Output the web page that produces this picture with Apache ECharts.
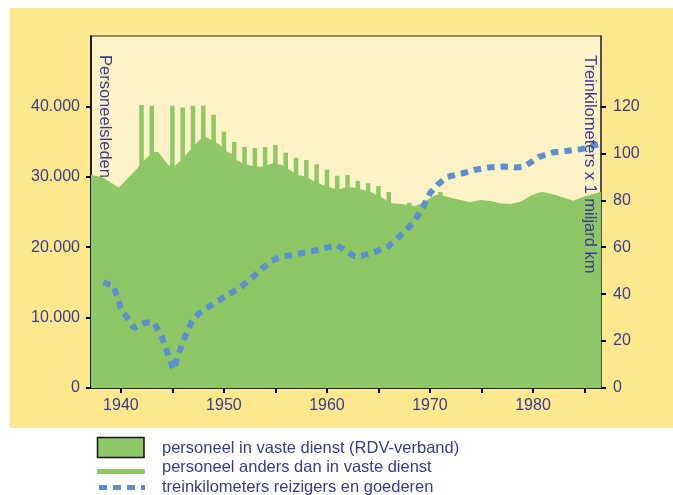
<!DOCTYPE html>
<html>
<head>
<meta charset="utf-8">
<script src="https://cdn.jsdelivr.net/npm/echarts@6/dist/echarts.min.js"></script>
<style>
html,body{margin:0;padding:0;background:#ffffff;}
#chart{width:673px;height:495px;}
</style>
</head>
<body>
<div id="chart"></div>
<script>
// ---- data ----
// personeel in vaste dienst (RDV-verband): area outline vertices
var vasteJaren = [1937.0,1938.2,1939.8,1941.6,1942.1,1943.1,1943.6,1944.6,1945.1,1946.0,1947.0,1948.0,1948.7,1949.6,1950.3,1950.8,1951.2,1952.0,1952.7,1953.7,1954.8,1955.6,1956.4,1957.2,1958.0,1958.8,1959.6,1960.5,1961.3,1961.9,1962.7,1963.5,1964.2,1965.3,1965.7,1966.2,1967.3,1968.6,1969.2,1970.5,1971.0,1972.2,1973.0,1973.9,1974.9,1975.9,1976.8,1977.8,1978.8,1979.9,1980.9,1982.2,1983.9,1984.9,1986.6,1987.0];
var vasteWaarden = [30300,29930,28470,31200,32140,33470,33560,31680,31350,32600,34280,35750,35350,34520,33570,33240,32390,31820,31530,31440,31920,31680,30970,30260,30020,29320,28840,28370,28270,28600,28460,28120,27880,27090,26700,26230,26140,25850,26230,27410,27410,26940,26700,26380,26700,26560,26230,26140,26470,27410,27880,27410,26610,27180,27880,27950];

// totaal personeel (vaste dienst + anders dan in vaste dienst): bar tops
var totaalJaren = [1942,1943,1945,1946,1947,1948,1949,1950,1951,1952,1953,1954,1955,1956,1957,1958,1959,1960,1961,1962,1963,1964,1965,1966,1968,1971];
var totaalWaarden = [40200,40100,40100,39850,40100,40100,38800,36400,34950,34250,34100,34250,34500,33400,32700,32400,31800,31000,30150,30250,29400,29100,28700,27850,26300,27850];

// treinkilometers reizigers en goederen (x 1 miljard km)
var kmJaren = [1938.3,1939.3,1940.0,1941.3,1942.3,1943.2,1944.0,1945.1,1946.0,1946.9,1947.5,1949.0,1950.5,1951.5,1953.0,1954.5,1955.5,1957.0,1958.5,1960.4,1961.0,1962.7,1963.5,1965.0,1966.0,1967.5,1968.5,1969.3,1970.0,1970.7,1971.7,1973.0,1974.4,1975.7,1977.1,1978.4,1979.2,1980.6,1982.0,1983.4,1984.7,1986.5];
var kmWaarden = [45,43.5,34,25.5,27.8,28,21.5,7.8,19.5,28.5,31.5,36,40,42.5,48,54,55.8,57,58.2,60.2,60.8,56,56.5,58.5,60.5,66.5,71,77,83,86.5,90,91.3,93,94,94.4,94,94.5,98.5,100.5,101.1,101.8,104];

// axis ticks and labels
var xTickJaren = [1940,1945,1950,1955,1960,1965,1970,1975,1980,1985];
var xLabelJaren = [1940,1950,1960,1970,1980];
var yLinksWaarden = [0,10000,20000,30000,40000];
var yRechtsWaarden = [0,20,40,60,80,100,120];

var titelLinks = 'Personeelsleden';
var titelRechts = 'Treinkilometers x 1 miljard km';
var legendaTeksten = ['personeel in vaste dienst (RDV-verband)', 'personeel anders dan in vaste dienst', 'treinkilometers reizigers en goederen'];

// ---- styling ----
var GROEN = '#8ec766';
var BLAUW = '#5b8fd0';
var TEKST = '#3a3a8e';
var GEEL = '#fee88d';
var LICHT = '#fdf2c6';
var FONT = '"Liberation Sans", Arial, sans-serif';

function pairs(xs, ys) { return xs.map(function (x, i) { return [x, ys[i]]; }); }
function dutch(v) { return String(v).replace(/\B(?=(\d{3})+(?!\d))/g, '.'); }

var chart = echarts.init(document.getElementById('chart'), null, {renderer: 'canvas'});
var option = {
  animation: false,
  backgroundColor: '#ffffff',
  textStyle: {fontFamily: FONT},
  grid: {left: 91, top: 36, right: 72, bottom: 107, show: true, backgroundColor: LICHT, borderColor: '#222', borderWidth: 1.2},
  xAxis: {
    type: 'value', min: 1937.1, max: 1986.6,
    axisLine: {show: true, onZero: false, lineStyle: {color: '#000', width: 1.5}},
    axisTick: {show: true, length: 5, inside: false, customValues: xTickJaren, lineStyle: {color: '#000', width: 2}},
    axisLabel: {customValues: xLabelJaren, color: TEKST, fontSize: 16, fontFamily: FONT, margin: 10, formatter: function (v) { return String(v); }},
    splitLine: {show: false}
  },
  yAxis: [
    {
      type: 'value', min: 0, max: 50000, interval: 10000, position: 'left',
      axisLine: {show: true, lineStyle: {color: '#000', width: 1.5}},
      axisTick: {show: true, length: 5, customValues: yLinksWaarden, lineStyle: {color: '#000', width: 2}},
      axisLabel: {customValues: yLinksWaarden, color: TEKST, fontSize: 16, fontFamily: FONT, margin: 11, formatter: function (v) { return dutch(v); }},
      splitLine: {show: false}
    },
    {
      type: 'value', min: 0, max: 150, position: 'right',
      axisLine: {show: true, lineStyle: {color: '#444', width: 1.5}},
      axisTick: {show: true, length: 5, customValues: yRechtsWaarden, lineStyle: {color: '#000', width: 2}},
      axisLabel: {customValues: yRechtsWaarden, color: TEKST, fontSize: 16, fontFamily: FONT, margin: 12},
      splitLine: {show: false}
    }
  ],
  series: [
    {
      name: legendaTeksten[1], type: 'bar', xAxisIndex: 0, yAxisIndex: 0,
      data: pairs(totaalJaren, totaalWaarden), barWidth: 4.5,
      itemStyle: {color: GROEN}, z: 2
    },
    {
      name: legendaTeksten[0], type: 'line', xAxisIndex: 0, yAxisIndex: 0,
      data: pairs(vasteJaren, vasteWaarden), showSymbol: false, symbol: 'none',
      lineStyle: {width: 0, color: GROEN}, areaStyle: {color: GROEN, opacity: 1}, z: 3
    },
    {
      name: legendaTeksten[2], type: 'line', xAxisIndex: 0, yAxisIndex: 1,
      data: pairs(kmJaren, kmWaarden), showSymbol: false, symbol: 'none',
      lineStyle: {width: 6, color: BLAUW, type: [7.5, 6], cap: 'butt'}, z: 4
    }
  ],
  graphic: [
    {type: 'rect', z: -100, silent: true, shape: {x: 10, y: 8, width: 663, height: 420}, style: {fill: GEEL}},
    {type: 'text', z: 100, x: 105, y: 55, rotation: -Math.PI / 2, style: {text: titelLinks, fill: TEKST, font: '16.5px ' + FONT, textAlign: 'left', textVerticalAlign: 'middle'}},
    {type: 'text', z: 100, x: 590, y: 55, rotation: -Math.PI / 2, style: {text: titelRechts, fill: TEKST, font: '16.5px ' + FONT, textAlign: 'left', textVerticalAlign: 'middle'}},
    {type: 'rect', z: 100, shape: {x: 97.5, y: 437.5, width: 46.5, height: 20}, style: {fill: GROEN, stroke: '#111', lineWidth: 1.5}},
    {type: 'line', z: 100, shape: {x1: 97, y1: 471.5, x2: 145, y2: 471.5}, style: {stroke: GROEN, lineWidth: 5}},
    {type: 'line', z: 100, shape: {x1: 99, y1: 487.5, x2: 145, y2: 487.5}, style: {stroke: BLAUW, lineWidth: 5, lineDash: [8, 6]}},
    {type: 'text', z: 100, x: 162, y: 448, style: {text: legendaTeksten[0], fill: TEKST, font: '16.5px ' + FONT, textAlign: 'left', textVerticalAlign: 'middle'}},
    {type: 'text', z: 100, x: 162, y: 467.5, style: {text: legendaTeksten[1], fill: TEKST, font: '16.5px ' + FONT, textAlign: 'left', textVerticalAlign: 'middle'}},
    {type: 'text', z: 100, x: 162, y: 487, style: {text: legendaTeksten[2], fill: TEKST, font: '16.5px ' + FONT, textAlign: 'left', textVerticalAlign: 'middle'}}
  ]
};
chart.setOption(option);
</script>
</body>
</html>
